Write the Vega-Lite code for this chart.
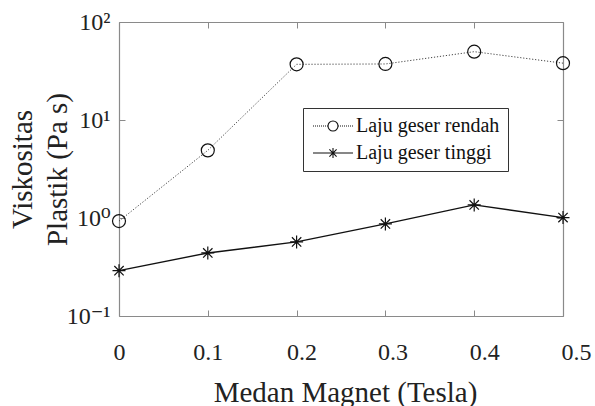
{
  "$schema": "https://vega.github.io/schema/vega-lite/v6.json",
  "width": 444,
  "height": 294,
  "autosize": "none",
  "padding": {"left": 119, "top": 22, "right": 32, "bottom": 90},
  "background": "white",
  "data": {
    "values": [
      {"B": 0.0, "V": 0.93, "s": "Laju geser rendah"},
      {"B": 0.1, "V": 4.9, "s": "Laju geser rendah"},
      {"B": 0.2, "V": 37, "s": "Laju geser rendah"},
      {"B": 0.3, "V": 37.3, "s": "Laju geser rendah"},
      {"B": 0.4, "V": 49.8, "s": "Laju geser rendah"},
      {"B": 0.5, "V": 38, "s": "Laju geser rendah"},
      {"B": 0.0, "V": 0.29, "s": "Laju geser tinggi"},
      {"B": 0.1, "V": 0.44, "s": "Laju geser tinggi"},
      {"B": 0.2, "V": 0.57, "s": "Laju geser tinggi"},
      {"B": 0.3, "V": 0.87, "s": "Laju geser tinggi"},
      {"B": 0.4, "V": 1.36, "s": "Laju geser tinggi"},
      {"B": 0.5, "V": 1.01, "s": "Laju geser tinggi"}
    ]
  },
  "config": {
    "view": {"stroke": null},
    "font": "Liberation Serif, Times New Roman, DejaVu Serif, serif",
    "legend": {"labelFont": "Liberation Serif, Times New Roman, DejaVu Serif, serif"},
    "axis": {
      "grid": false,
      "domainColor": "#8a8a8a",
      "tickColor": "#8a8a8a",
      "domainWidth": 1.2,
      "tickWidth": 1,
      "tickSize": -6,
      "labelFont": "Liberation Serif, Times New Roman, DejaVu Serif, serif",
      "labelFontSize": 24,
      "labelColor": "#222222",
      "titleFont": "Liberation Serif, Times New Roman, DejaVu Serif, serif",
      "titleFontSize": 29,
      "titleFontWeight": "normal",
      "titleColor": "#222222"
    }
  },
  "layer": [
    {
      "transform": [{"filter": "datum.s === 'Laju geser rendah'"}],
      "mark": {"type": "line", "color": "#444444", "strokeWidth": 1, "strokeDash": [1.2, 1.8]},
      "encoding": {
        "x": {"field": "B", "type": "quantitative", "scale": {"domain": [0, 0.5], "nice": false, "zero": false}, "axis": null},
        "y": {"field": "V", "type": "quantitative", "scale": {"type": "log", "domain": [0.1, 100], "nice": false}, "axis": null}
      }
    },
    {
      "transform": [{"filter": "datum.s === 'Laju geser tinggi'"}],
      "mark": {"type": "line", "color": "#111111", "strokeWidth": 1.4},
      "encoding": {
        "x": {"field": "B", "type": "quantitative", "scale": {"domain": [0, 0.5], "nice": false, "zero": false}, "axis": null},
        "y": {"field": "V", "type": "quantitative", "scale": {"type": "log", "domain": [0.1, 100], "nice": false}, "axis": null}
      }
    },
    {
      "mark": {"type": "point", "filled": false, "stroke": "#111111", "strokeWidth": 1.2, "size": 169, "opacity": 1},
      "encoding": {
        "x": {
          "field": "B", "type": "quantitative",
          "scale": {"domain": [0, 0.5], "nice": false, "zero": false},
          "axis": {
            "orient": "bottom",
            "values": [0, 0.1, 0.2, 0.3, 0.4, 0.5],
            "format": "~g",
            "labelFlush": false,
            "labelPadding": 30,
            "labelOffset": {
              "condition": [
                {"test": "datum.value > 0.45", "value": 13},
                {"test": "datum.value > 0.35", "value": 10},
                {"test": "datum.value > 0.25", "value": 7},
                {"test": "datum.value > 0.15", "value": 5}
              ],
              "value": 0
            },
            "title": "Medan Magnet (Tesla)",
            "titlePadding": 14,
            "titleX": 226
          }
        },
        "y": {
          "field": "V", "type": "quantitative",
          "scale": {"type": "log", "domain": [0.1, 100], "nice": false},
          "axis": {
            "orient": "left",
            "values": [0.1, 1, 10, 100],
            "labelExpr": "datum.value >= 50 ? '10²' : datum.value >= 5 ? '10¹' : datum.value >= 0.5 ? '10⁰' : '10⁻¹'",
            "labelPadding": 15,
            "title": ["Viskositas", "Plastik (Pa s)"],
            "titleLineHeight": 35,
            "titlePadding": -6
          }
        },
        "shape": {
          "field": "s", "type": "nominal",
          "scale": {"domain": ["Laju geser rendah", "Laju geser tinggi"], "range": ["circle", "M-1,0L1,0M0,-1L0,1M-0.72,-0.72L0.72,0.72M-0.72,0.72L0.72,-0.72"]},
          "legend": null
        }
      }
    },
    {
      "transform": [{"filter": "datum.V < 0"}],
      "mark": {"type": "point", "filled": false, "stroke": "#111111", "strokeWidth": 1.1, "size": 100, "opacity": 1},
      "encoding": {
        "x": {
          "field": "B", "type": "quantitative",
          "scale": {"domain": [0, 0.5], "nice": false, "zero": false},
          "axis": {"orient": "top", "values": [0, 0.1, 0.2, 0.3, 0.4, 0.5], "labels": false, "title": null}
        },
        "y": {
          "field": "V", "type": "quantitative",
          "scale": {"type": "log", "domain": [0.1, 100], "nice": false},
          "axis": {"orient": "right", "values": [0.1, 1, 10, 100], "labels": false, "title": null}
        },
        "shape": {
          "field": "s", "type": "nominal",
          "scale": {"domain": ["Laju geser rendah", "Laju geser tinggi"], "range": [
            "M-1,0A1,1,0,1,0,1,0A1,1,0,1,0,-1,0M-4,0L-3.8,0M-3.6,0L-3.4,0M-3.2,0L-3,0M-2.8,0L-2.6,0M-2.4,0L-2.2,0M-2,0L-1.8,0M-1.6,0L-1.4,0M-1.2,0L-1,0M1,0L1.2,0M1.4,0L1.6,0M1.8,0L2,0M2.2,0L2.4,0M2.6,0L2.8,0M3,0L3.2,0M3.4,0L3.6,0M3.8,0L4,0",
            "M-4,0L4,0M0,-1L0,1M-0.72,-0.72L0.72,0.72M-0.72,0.72L0.72,-0.72"
          ]},
          "legend": {
            "title": null,
            "orient": "none",
            "legendX": 184,
            "legendY": 86,
            "padding": 8,
            "strokeColor": "#333333",
            "fillColor": "white",
            "labelFont": "Liberation Serif, Times New Roman, DejaVu Serif, serif",
            "labelFontSize": 20,
            "labelColor": "#111111",
            "labelExpr": "datum.label + '\u00a0\u00a0\u00a0\u00a0\u00a0\u00a0\u00a0\u00a0\u00a0\u00a0\u00a0\u00a0\u00a0'",
            "symbolOffset": 12,
            "labelOffset": 13,
            "rowPadding": 7,
            "symbolSize": 100,
            "symbolStrokeColor": "#111111",
            "symbolStrokeWidth": 1.1
          }
        }
      }
    }
  ],
  "resolve": {"axis": {"x": "independent", "y": "independent"}, "scale": {"shape": "independent"}}
}
